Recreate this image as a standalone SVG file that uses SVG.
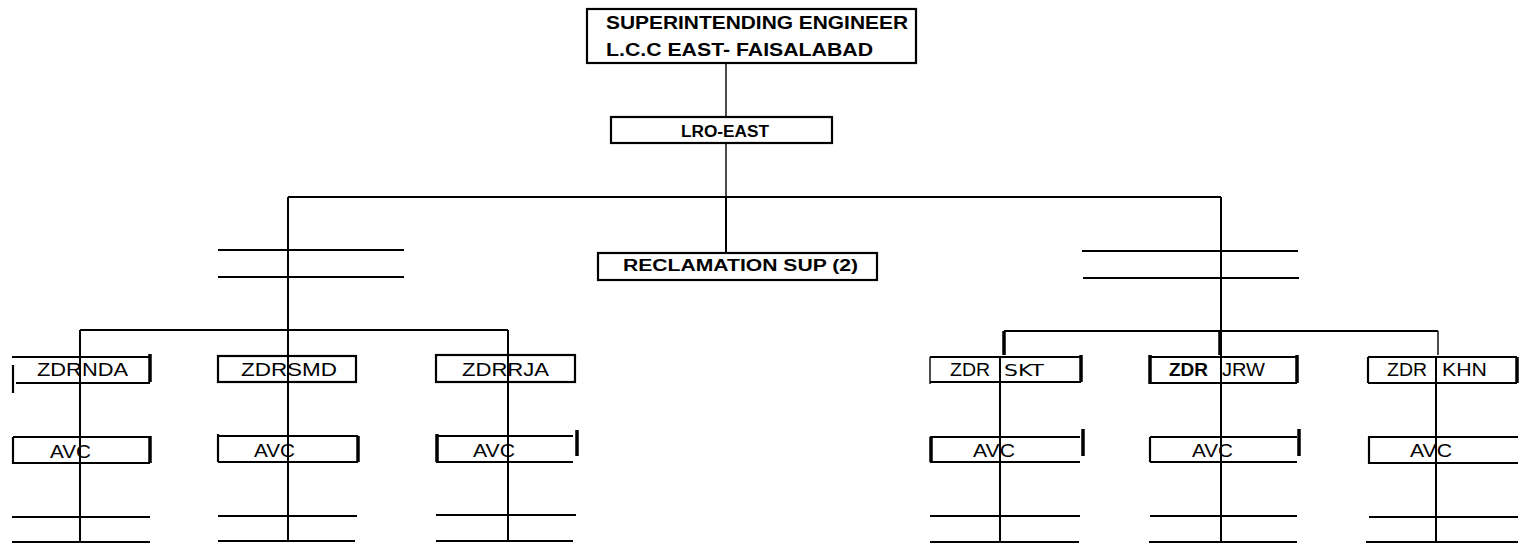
<svg xmlns="http://www.w3.org/2000/svg" width="1520" height="546" viewBox="0 0 1520 546">
<style>
.bg{fill:#fff}
.box{fill:none;stroke:#000;stroke-width:2.2}
.ln{fill:none;stroke:#000;stroke-width:2}
.thin{fill:none;stroke:#000;stroke-width:1.4}
.thk{fill:none;stroke:#000;stroke-width:3.5}
.b{font-family:"Liberation Sans",Arial,sans-serif;font-weight:bold;fill:#000}
.r{font-family:"Liberation Sans",Arial,sans-serif;font-size:18px;fill:#000}
.m{font-family:"DejaVu Sans",sans-serif;font-size:16px;fill:#000}
</style>
<rect class="bg" x="0" y="0" width="1520" height="546"/>
<g id="connectors">
<path class="thin" d="M726,63V117M726,143V197"/>
<path class="ln" d="M288,197H1221M726,197V253M288,197V542M1221,197V542"/>
<path class="ln" d="M80,330H508M80,330V542M508,330V542"/>
<path class="ln" d="M1004,331H1438M1000,357V542M1436,357V542"/>
<path class="thk" d="M1004,331V355M1220,331V355"/>
<path class="thin" d="M1438,331V355"/>
</g>
<g id="blank-lines">
<path class="ln" d="M218,250H404M218,277H404M1082,251H1298M1083,278H1299"/>
<path class="ln" d="M12,517H150M12,542H150M218,516H357M218,541H355M436,515H576M436,541H573M930,516H1080M930,542H1079M1150,516H1297M1149,542H1297M1369,517H1518M1366,542H1518"/>
</g>
<g id="se">
<rect class="box" x="587" y="9" width="329" height="54" stroke-width="2.6"/>
<text class="b" x="606" y="29" font-size="19" textLength="302" lengthAdjust="spacingAndGlyphs">SUPERINTENDING  ENGINEER</text>
<text class="b" x="606" y="56" font-size="19" textLength="267" lengthAdjust="spacingAndGlyphs">L.C.C  EAST- FAISALABAD</text>
</g>
<g id="lro">
<rect class="box" x="611" y="117" width="221" height="26"/>
<text class="b" x="681" y="137" font-size="16" textLength="88" lengthAdjust="spacingAndGlyphs">LRO-EAST</text>
</g>
<g id="reclamation">
<rect class="box" x="598" y="253" width="279" height="27" stroke-width="2.6"/>
<text class="b" x="623" y="271" font-size="16" textLength="235" lengthAdjust="spacingAndGlyphs">RECLAMATION  SUP (2)</text>
</g>
<g id="zdr-nda">
<path class="ln" d="M12,357H150M16,383H150"/>
<path class="box" d="M13,365V393"/>
<path class="thk" d="M150,354V382"/>
<text class="r" x="37" y="376" textLength="91" lengthAdjust="spacingAndGlyphs">ZDRNDA</text>
</g>
<g id="zdr-smd">
<rect class="box" x="218" y="356" width="138" height="26"/>
<text class="r" x="241" y="376" textLength="96" lengthAdjust="spacingAndGlyphs">ZDRSMD</text>
</g>
<g id="zdr-rja">
<rect class="box" x="436" y="355" width="139" height="27"/>
<text class="r" x="462" y="376" textLength="87" lengthAdjust="spacingAndGlyphs">ZDRRJA</text>
</g>
<g id="zdr-skt">
<path class="ln" d="M930,357H1081M930,382H1081"/>
<path class="thin" d="M930,357V384"/>
<path class="thk" d="M1081,355V382"/>
<text class="r" x="950" y="376" textLength="40" lengthAdjust="spacingAndGlyphs">ZDR</text>
<text class="m" x="1004" y="376" textLength="40" lengthAdjust="spacingAndGlyphs">SKT</text>
</g>
<g id="zdr-jrw">
<path class="ln" d="M1150,357H1297M1150,383H1297"/>
<path class="thk" d="M1150,355V384M1297,355V383"/>
<text class="r" x="1169" y="376" font-weight="bold" textLength="39" lengthAdjust="spacingAndGlyphs">ZDR</text>
<text class="r" x="1222" y="376" textLength="43" lengthAdjust="spacingAndGlyphs">JRW</text>
</g>
<g id="zdr-khn">
<path class="ln" d="M1368,357H1517M1368,383H1517"/>
<path class="box" d="M1368,357V383"/>
<path class="thk" d="M1517,357V383"/>
<text class="r" x="1387" y="376" textLength="40" lengthAdjust="spacingAndGlyphs">ZDR</text>
<text class="r" x="1442" y="376" textLength="45" lengthAdjust="spacingAndGlyphs">KHN</text>
</g>
<g id="avc-1">
<path class="ln" d="M13,437H150M13,463H150"/>
<path class="box" d="M13,437V464"/>
<path class="thk" d="M150,436V463"/>
<text class="r" x="50" y="458" font-size="19" textLength="41" lengthAdjust="spacingAndGlyphs">AVC</text>
</g>
<g id="avc-2">
<path class="ln" d="M218,436H358M218,462H358"/>
<path class="box" d="M218,434V462"/>
<path class="thk" d="M358,436V462"/>
<text class="r" x="254" y="457" font-size="19" textLength="41" lengthAdjust="spacingAndGlyphs">AVC</text>
</g>
<g id="avc-3">
<path class="ln" d="M436,436H573M436,462H573"/>
<path class="thk" d="M437,434V462M577,430V456"/>
<text class="r" x="473" y="457" font-size="19" textLength="42" lengthAdjust="spacingAndGlyphs">AVC</text>
</g>
<g id="avc-4">
<path class="ln" d="M930,437H1080M930,462H1080"/>
<path class="thk" d="M931,437V462M1083,429V456"/>
<text class="r" x="973" y="457" font-size="19" textLength="42" lengthAdjust="spacingAndGlyphs">AVC</text>
</g>
<g id="avc-5">
<path class="ln" d="M1150,437H1297M1150,462H1297"/>
<path class="box" d="M1150,437V462"/>
<path class="thk" d="M1299,429V456"/>
<text class="r" x="1192" y="457" font-size="19" textLength="41" lengthAdjust="spacingAndGlyphs">AVC</text>
</g>
<g id="avc-6">
<path class="ln" d="M1368,437H1518M1368,463H1518"/>
<path class="box" d="M1369,437V464"/>
<text class="r" x="1410" y="457" font-size="19" textLength="42" lengthAdjust="spacingAndGlyphs">AVC</text>
</g>
</svg>
